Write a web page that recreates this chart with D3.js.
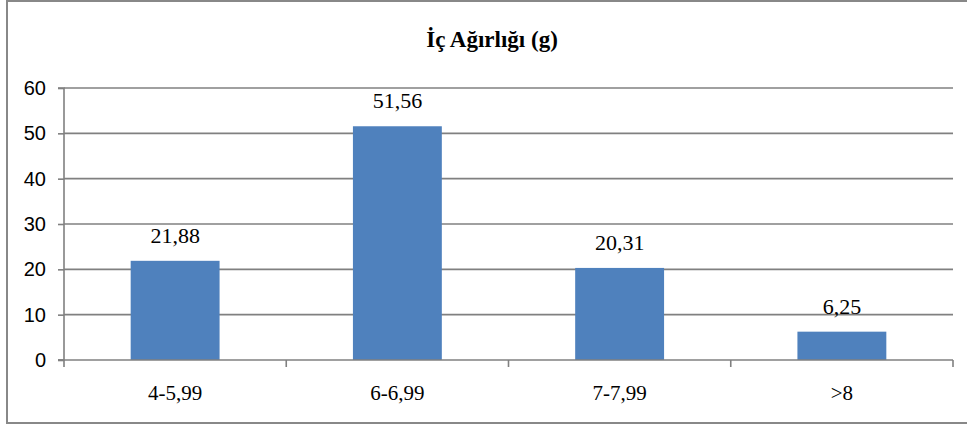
<!DOCTYPE html>
<html><head><meta charset="utf-8">
<script src="https://cdn.jsdelivr.net/npm/d3@7"></script>
<style>body{margin:0;background:#fff}svg{display:block}</style>
</head><body>
<svg id="c" width="967" height="430"></svg>
<script>
const categories = ["4-5,99", "6-6,99", "7-7,99", ">8"];
const values = [21.88, 51.56, 20.31, 6.25];
const valueLabels = ["21,88", "51,56", "20,31", "6,25"];
const yTicks = [0, 10, 20, 30, 40, 50, 60];
const title = "İç Ağırlığı (g)";

const svg = d3.select("#c");
const m = {left: 64, right: 953, top: 88, bottom: 360};

svg.append("rect").attr("x", 7).attr("y", 1).attr("width", 980).attr("height", 422)
  .attr("fill", "#fff").attr("stroke", "#888").attr("stroke-width", 2);

const y = d3.scaleLinear().domain([0, 60]).range([m.bottom, m.top]);
const xb = d3.scaleBand().domain(categories).range([m.left, m.right]).paddingInner(0.6).paddingOuter(0.3);
const xa = d3.scaleBand().domain(categories).range([m.left, m.right]).padding(0);

// gridlines
svg.append("g").selectAll("line").data(yTicks.filter(d => d > 0)).join("line")
  .attr("x1", m.left).attr("x2", m.right)
  .attr("y1", d => y(d)).attr("y2", d => y(d))
  .attr("stroke", "#808080").attr("stroke-width", 1.6);

// bars
svg.append("g").selectAll("rect").data(values).join("rect")
  .attr("x", (d, i) => xb(categories[i]))
  .attr("width", xb.bandwidth())
  .attr("y", d => y(d))
  .attr("height", d => y(0) - y(d))
  .attr("fill", "#4f81bd");

// y axis
const yAxis = d3.axisLeft(y).tickValues(yTicks).tickSize(6).tickPadding(12).tickFormat(d3.format("d"));
const gy = svg.append("g").attr("transform", `translate(${m.left},0)`).call(yAxis);
gy.select(".domain").attr("stroke", "#808080").attr("stroke-width", 1.6).attr("d", `M-6,${m.top}H0V${m.bottom}H-6`);
gy.selectAll(".tick line").attr("stroke", "#808080").attr("stroke-width", 1.6);
gy.selectAll(".tick text").attr("font-family", "Liberation Sans, Arial, sans-serif").attr("font-size", 20).attr("fill", "#000");

// x axis
const gx = svg.append("g").attr("transform", `translate(0,${m.bottom})`);
gx.append("line").attr("x1", m.left - 6).attr("x2", m.right).attr("y1", 0).attr("y2", 0)
  .attr("stroke", "#808080").attr("stroke-width", 1.6);
const bounds = categories.map(c => xa(c)).concat([m.right]);
gx.selectAll("line.t").data(bounds).join("line").attr("class", "t")
  .attr("x1", d => d).attr("x2", d => d).attr("y1", 0).attr("y2", 7)
  .attr("stroke", "#808080").attr("stroke-width", 1.6);
gx.selectAll("text").data(categories).join("text")
  .attr("x", d => xa(d) + xa.bandwidth() / 2).attr("y", 40)
  .attr("text-anchor", "middle")
  .attr("font-family", "Liberation Serif, Times New Roman, serif").attr("font-size", 21).attr("fill", "#000")
  .text(d => d);

// value labels
svg.append("g").selectAll("text").data(values).join("text")
  .attr("x", (d, i) => xb(categories[i]) + xb.bandwidth() / 2)
  .attr("y", d => y(d) - 18)
  .attr("text-anchor", "middle")
  .attr("font-family", "Liberation Serif, Times New Roman, serif").attr("font-size", 22).attr("fill", "#000")
  .text((d, i) => valueLabels[i]);

// title
svg.append("text").attr("x", 492).attr("y", 47).attr("text-anchor", "middle")
  .attr("font-family", "Liberation Serif, Times New Roman, serif").attr("font-weight", "bold")
  .attr("font-size", 23).attr("fill", "#000").text(title);
</script>
</body></html>
